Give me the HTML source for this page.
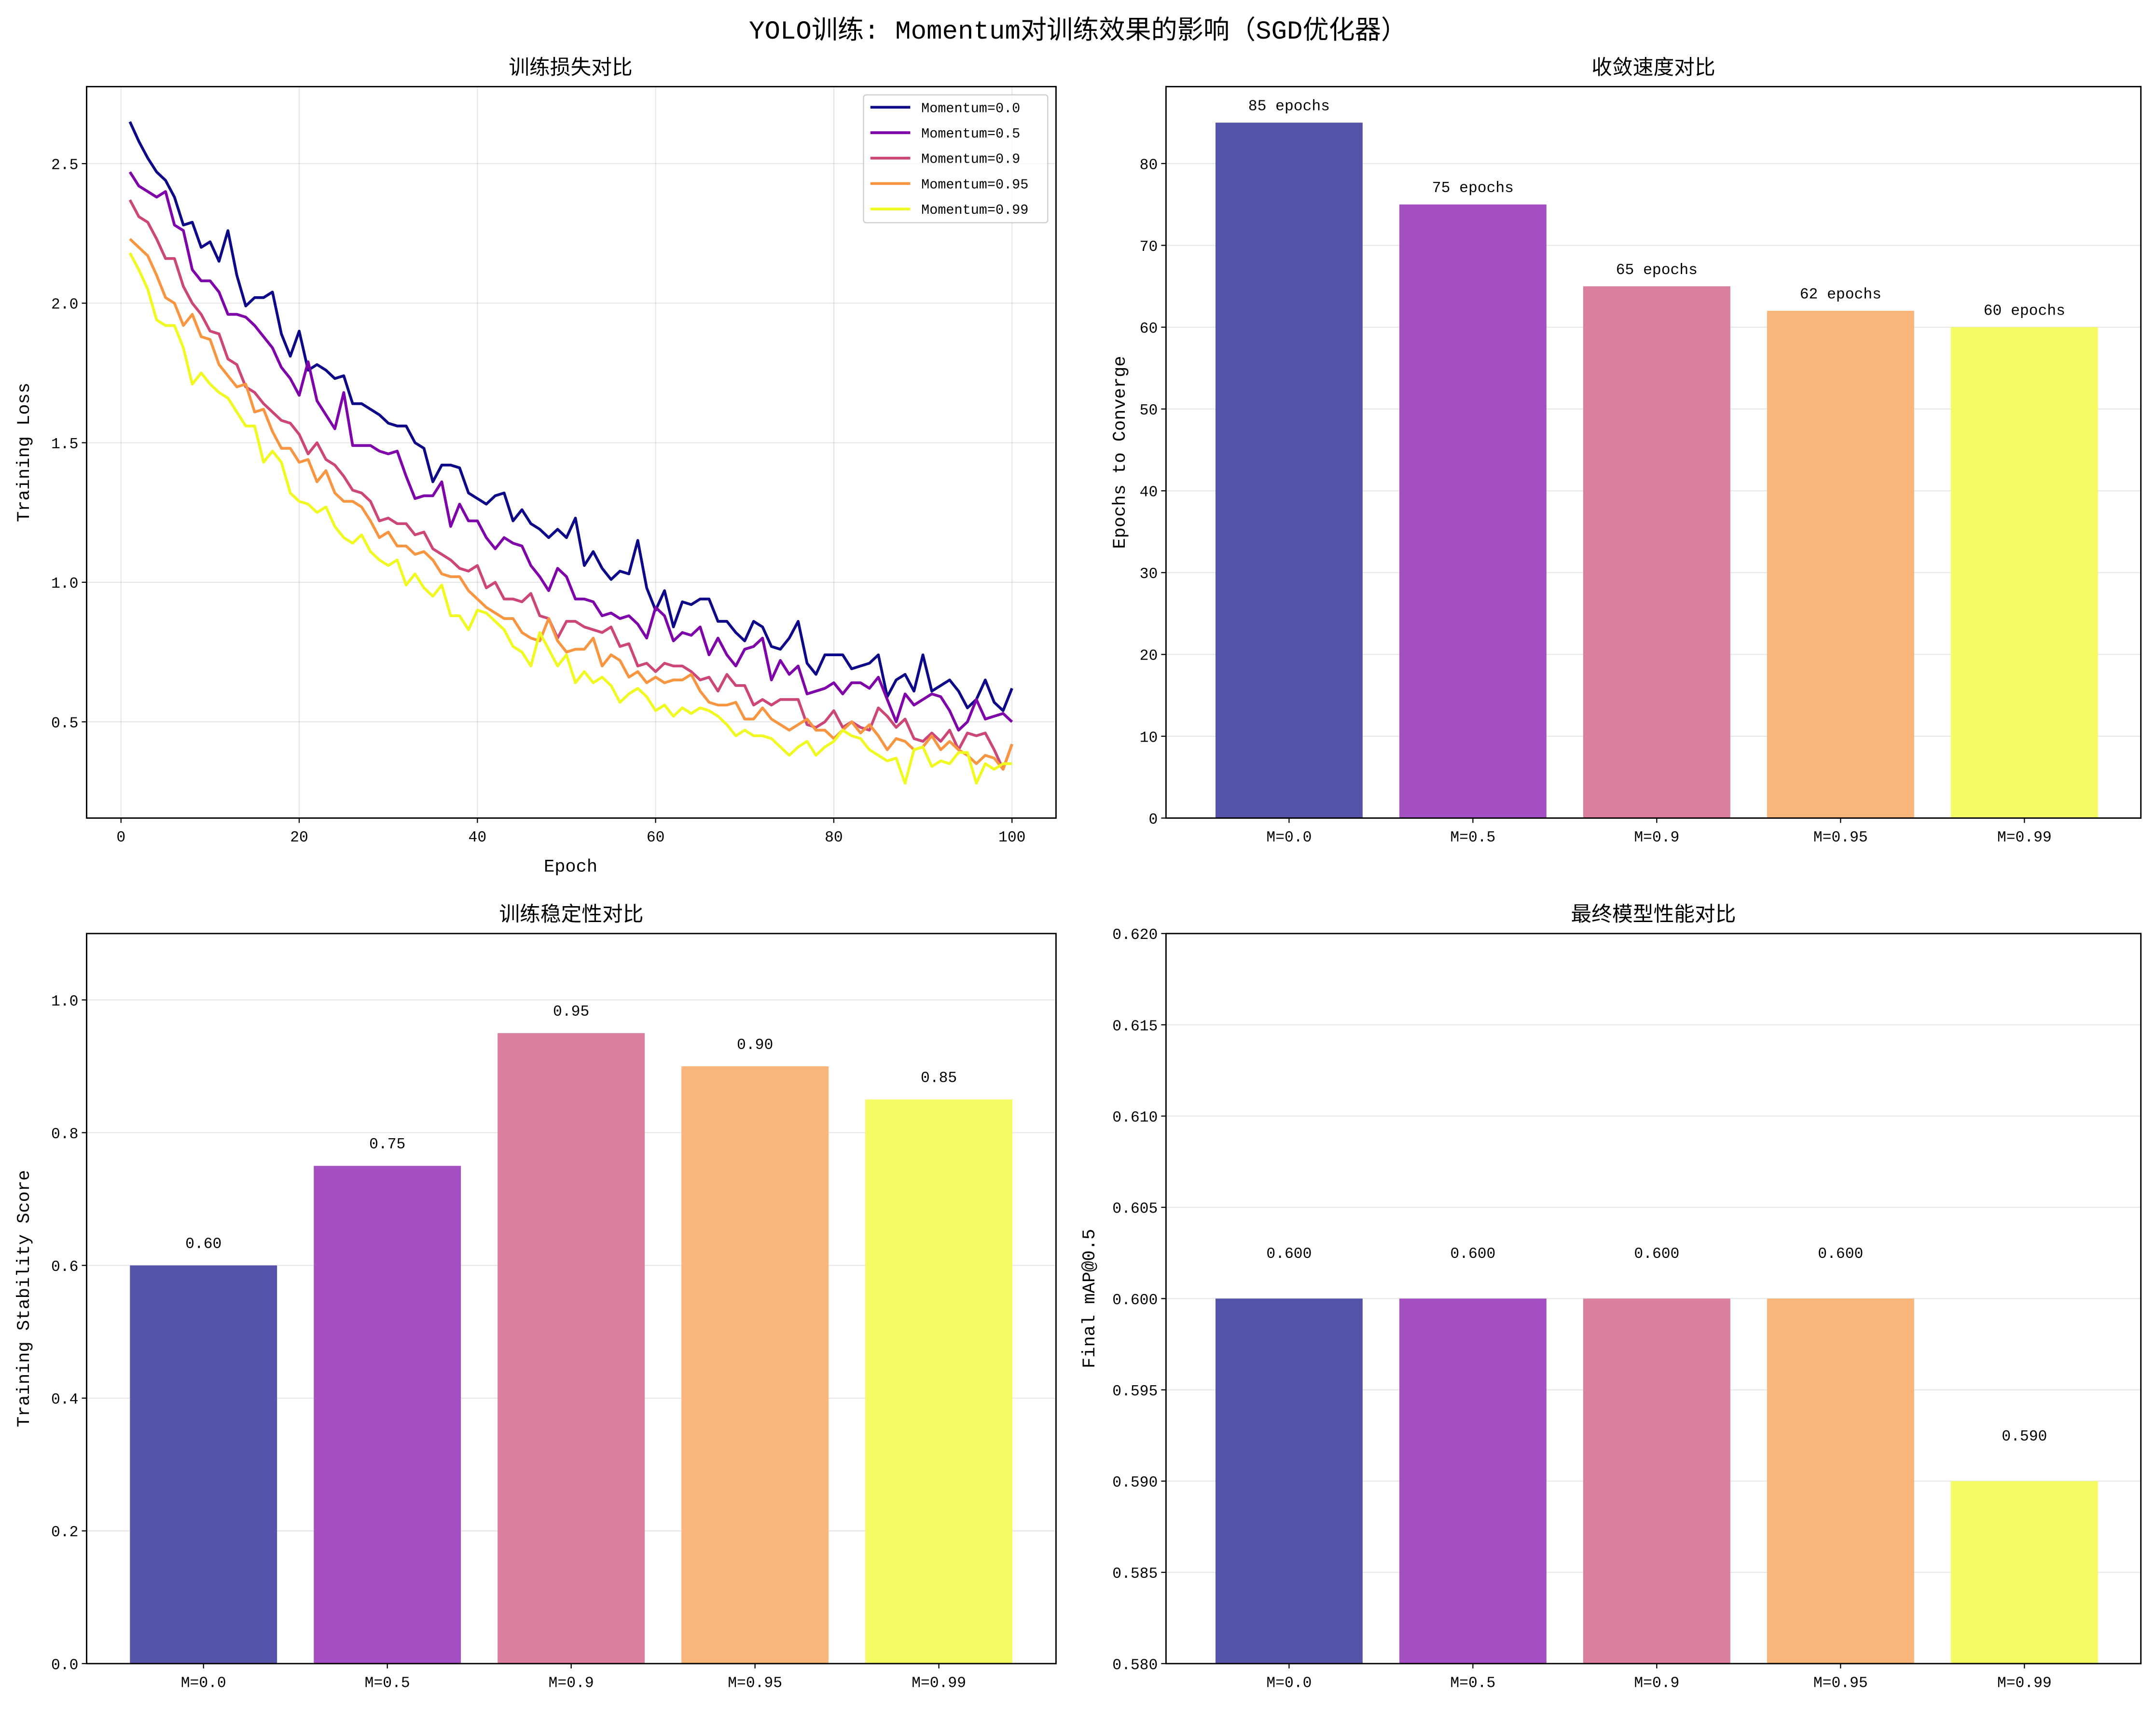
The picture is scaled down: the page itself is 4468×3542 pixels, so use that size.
<!DOCTYPE html>
<html><head><meta charset="utf-8"><style>
html,body{margin:0;padding:0;background:#fff}
svg{display:block}
text{font-family:"Liberation Mono","Noto Sans CJK SC",monospace;fill:#000}
</style></head><body>
<svg id="fig" width="4468" height="3542" viewBox="0 0 1568 1243" xmlns="http://www.w3.org/2000/svg">
<rect width="1568" height="1243" fill="#fff"/>
<text x="784" y="28" font-size="19" text-anchor="middle">YOLO训练: Momentum对训练效果的影响（SGD优化器）</text>
<g id="g"></g>
</svg>
<script>
const momentumLabels = ["Momentum=0.0","Momentum=0.5","Momentum=0.9","Momentum=0.95","Momentum=0.99"];
const barCategories = ["M=0.0","M=0.5","M=0.9","M=0.95","M=0.99"];
const loss00 = [2.65,2.58,2.52,2.47,2.44,2.38,2.28,2.29,2.20,2.22,2.15,2.26,2.10,1.99,2.02,2.02,2.04,1.89,1.81,1.90,1.76,1.78,1.76,1.73,1.74,1.64,1.64,1.62,1.60,1.57,1.56,1.56,1.50,1.48,1.36,1.42,1.42,1.41,1.32,1.30,1.28,1.31,1.32,1.22,1.26,1.21,1.19,1.16,1.19,1.16,1.23,1.06,1.11,1.05,1.01,1.04,1.03,1.15,0.98,0.90,0.97,0.84,0.93,0.92,0.94,0.94,0.86,0.86,0.82,0.79,0.86,0.84,0.77,0.76,0.80,0.86,0.71,0.67,0.74,0.74,0.74,0.69,0.70,0.71,0.74,0.59,0.65,0.67,0.61,0.74,0.61,0.63,0.65,0.61,0.55,0.58,0.65,0.57,0.54,0.62];
const loss05 = [2.47,2.42,2.40,2.38,2.40,2.28,2.26,2.12,2.08,2.08,2.04,1.96,1.96,1.95,1.92,1.88,1.84,1.77,1.73,1.67,1.79,1.65,1.60,1.55,1.68,1.49,1.49,1.49,1.47,1.46,1.47,1.38,1.30,1.31,1.31,1.36,1.20,1.28,1.22,1.22,1.16,1.12,1.16,1.14,1.13,1.06,1.02,0.97,1.05,1.02,0.94,0.94,0.93,0.88,0.89,0.87,0.88,0.85,0.80,0.91,0.88,0.79,0.82,0.81,0.84,0.74,0.80,0.74,0.70,0.76,0.77,0.80,0.65,0.72,0.67,0.70,0.60,0.61,0.62,0.64,0.60,0.64,0.64,0.62,0.66,0.58,0.50,0.60,0.56,0.58,0.60,0.59,0.54,0.47,0.50,0.58,0.51,0.52,0.53,0.50];
const loss09 = [2.37,2.31,2.29,2.23,2.16,2.16,2.06,2.00,1.96,1.90,1.89,1.80,1.78,1.70,1.68,1.64,1.61,1.58,1.57,1.53,1.46,1.50,1.44,1.42,1.38,1.33,1.32,1.29,1.22,1.23,1.21,1.21,1.17,1.18,1.12,1.10,1.08,1.05,1.04,1.06,0.98,1.00,0.94,0.94,0.93,0.96,0.88,0.87,0.80,0.86,0.86,0.84,0.83,0.82,0.84,0.77,0.78,0.70,0.71,0.68,0.71,0.70,0.70,0.68,0.65,0.66,0.61,0.67,0.63,0.63,0.56,0.58,0.56,0.58,0.58,0.58,0.49,0.48,0.50,0.54,0.48,0.50,0.48,0.47,0.55,0.52,0.48,0.51,0.44,0.43,0.46,0.43,0.47,0.40,0.46,0.45,0.46,0.40,0.33,0.42];
const loss095 = [2.23,2.20,2.17,2.10,2.02,2.00,1.92,1.96,1.88,1.87,1.78,1.74,1.70,1.71,1.61,1.62,1.54,1.48,1.48,1.43,1.44,1.36,1.40,1.32,1.29,1.29,1.27,1.22,1.16,1.18,1.13,1.13,1.10,1.11,1.08,1.03,1.02,1.02,0.97,0.94,0.91,0.89,0.87,0.87,0.82,0.80,0.79,0.87,0.79,0.75,0.76,0.76,0.80,0.70,0.74,0.72,0.66,0.68,0.64,0.66,0.64,0.65,0.65,0.67,0.61,0.57,0.56,0.56,0.57,0.51,0.51,0.55,0.51,0.49,0.47,0.49,0.51,0.47,0.47,0.44,0.47,0.50,0.46,0.49,0.45,0.40,0.44,0.43,0.40,0.41,0.45,0.40,0.43,0.40,0.38,0.35,0.38,0.37,0.33,0.42];
const loss099 = [2.18,2.12,2.05,1.94,1.92,1.92,1.84,1.71,1.75,1.71,1.68,1.66,1.61,1.56,1.56,1.43,1.47,1.43,1.32,1.29,1.28,1.25,1.27,1.20,1.16,1.14,1.17,1.11,1.08,1.06,1.08,0.99,1.03,0.98,0.95,0.99,0.88,0.88,0.83,0.90,0.89,0.86,0.83,0.77,0.75,0.70,0.82,0.76,0.70,0.74,0.64,0.68,0.64,0.66,0.63,0.57,0.60,0.62,0.59,0.54,0.56,0.52,0.55,0.53,0.55,0.54,0.52,0.49,0.45,0.47,0.45,0.45,0.44,0.41,0.38,0.41,0.43,0.38,0.41,0.43,0.47,0.45,0.44,0.40,0.38,0.36,0.37,0.28,0.40,0.41,0.34,0.36,0.35,0.39,0.39,0.28,0.35,0.33,0.35,0.35];
const convergeEpochs = [85,75,65,62,60];
const stabilityScores = [0.60,0.75,0.95,0.90,0.85];
const finalMap = [0.600,0.600,0.600,0.600,0.590];
const lossTicksX = [0,20,40,60,80,100];
const lossTicksY = [0.5,1.0,1.5,2.0,2.5];
const convTicksY = [0,10,20,30,40,50,60,70,80];
const stabTicksY = [0.0,0.2,0.4,0.6,0.8,1.0];
const mapTicksY = [0.580,0.585,0.590,0.595,0.600,0.605,0.610,0.615,0.620];

const lineColors = ["#0d0887","#7e03a8","#cc4778","#f89540","#f0f921"];
const barColors = ["#5654a9","#a550c2","#db7fa1","#f9b57a","#f4fb63"];
const NS="http://www.w3.org/2000/svg";
const G=document.getElementById('g');
function mk(tag,attrs,parent,txt){const e=document.createElementNS(NS,tag);for(const k in attrs)e.setAttribute(k,attrs[k]);if(txt!==undefined)e.textContent=txt;(parent||G).appendChild(e);return e;}
function lin(d0,d1,r0,r1){return v=>r0+(v-d0)/(d1-d0)*(r1-r0);}

function axesFrame(x0,y0,x1,y1,name){
  const r=mk('rect',{x:x0,y:y0,width:x1-x0,height:y1-y0,fill:'none',stroke:'#000','stroke-width':1});
  
  
}
function yTicks(ticks,sy,x0,x1,fmt,name){
  ticks.forEach(t=>{const y=sy(t);
    const gl=mk('line',{x1:x0,x2:x1,y1:y,y2:y,stroke:'#b0b0b0','stroke-opacity':0.3,'stroke-width':0.8});
    
    
    mk('line',{x1:x0-3.5,x2:x0,y1:y,y2:y,stroke:'#000','stroke-width':0.8});
    const tx=mk('text',{x:x0-6,y:y+4,'font-size':11,'text-anchor':'end'},G,fmt(t));
    
    
  });
}
function title(x,y,s,name){const t=mk('text',{x:x,y:y,'font-size':15,'text-anchor':'middle'},G,s);
  
  }
function ylabel(x,y,s,name){const t=mk('text',{x:0,y:0,'font-size':13,'text-anchor':'middle',transform:`translate(${x},${y}) rotate(-90)`},G,s);
  
  }

// ---- Panel 1: loss lines ----
(function(){
  const x0=63,x1=768,y0=63,y1=595;
  const sx=lin(0,100,88,736), sy=lin(0.5,2.5,525,119);
  lossTicksX.forEach(t=>{const x=sx(t);
    const gl=mk('line',{x1:x,x2:x,y1:y0,y2:y1,stroke:'#b0b0b0','stroke-opacity':0.3,'stroke-width':0.8});
    
    
    mk('line',{x1:x,x2:x,y1:y1,y2:y1+3.5,stroke:'#000','stroke-width':0.8});
    const tx=mk('text',{x:x,y:y1+17,'font-size':11,'text-anchor':'middle'},G,String(t));
    
    
  });
  yTicks(lossTicksY,sy,x0,x1,v=>v.toFixed(1),'loss');
  const series=[loss00,loss05,loss09,loss095,loss099];
  series.forEach((s,i)=>{
    const pts=s.map((v,j)=>sx(j+1).toFixed(2)+','+sy(v).toFixed(2)).join(' ');
    const p=mk('polyline',{points:pts,fill:'none',stroke:lineColors[i],'stroke-width':2,'stroke-linejoin':'round'});
    
    
  });
  axesFrame(x0,y0,x1,y1,'loss-axes');
  title(415,54,'训练损失对比','loss-title');
  const xl=mk('text',{x:415,y:634,'font-size':13,'text-anchor':'middle'},G,'Epoch');
  
  
  ylabel(21,329,'Training Loss','loss-y-axis-title');
  const lg=mk('g',{});
  
  
  mk('rect',{x:628,y:69,width:134,height:93,rx:2,fill:'#fff','fill-opacity':0.8,stroke:'#ccc','stroke-width':0.8},lg);
  momentumLabels.forEach((l,i)=>{const y=78+i*18.5;
    const e=mk('g',{},lg);
    
    
    mk('line',{x1:633,x2:662,y1:y,y2:y,stroke:lineColors[i],'stroke-width':2},e);
    mk('text',{x:670,y:y+3.5,'font-size':10},e,l);
  });
})();

function barPanel(x0,y0,x1,y1,c0,vals,dmin,dmax,ticks,fmt,labFmt,labOff,name,ttl,ylab,ylx){
  const sy=lin(dmin,dmax,y1,y0);
  yTicks(ticks,sy,x0,x1,fmt,name);
  const step=133.7, bw=107;
  vals.forEach((v,i)=>{const cx=c0+i*step;
    const r=mk('rect',{x:cx-bw/2,y:sy(v),width:bw,height:y1-sy(v),fill:barColors[i]});
    
    
    const t=mk('text',{x:cx,y:sy(v+labOff)-3,'font-size':11,'text-anchor':'middle'},G,labFmt(v));
    
    
    mk('line',{x1:cx,x2:cx,y1:y1,y2:y1+3.5,stroke:'#000','stroke-width':0.8});
    const xt=mk('text',{x:cx,y:y1+17,'font-size':11,'text-anchor':'middle'},G,barCategories[i]);
    
    
  });
  axesFrame(x0,y0,x1,y1,name+'-axes');
  title((x0+x1)/2,y0-9,ttl,name+'-title');
  ylabel(ylx,(y0+y1)/2,ylab,name+'-y-axis-title');
}
barPanel(848,63,1557,595,937.5,convergeEpochs,0,89.4,convTicksY,v=>String(v),v=>v+' epochs',1,'convergence','收敛速度对比','Epochs to Converge',818);
barPanel(63,679,768,1210,148,stabilityScores,0,1.1,stabTicksY,v=>v.toFixed(1),v=>v.toFixed(2),0.02,'stability','训练稳定性对比','Training Stability Score',21);
barPanel(848,679,1557,1210,937.5,finalMap,0.58,0.62,mapTicksY,v=>v.toFixed(3),v=>v.toFixed(3),0.002,'map','最终模型性能对比','Final mAP@0.5',796);
</script>
</body></html>
